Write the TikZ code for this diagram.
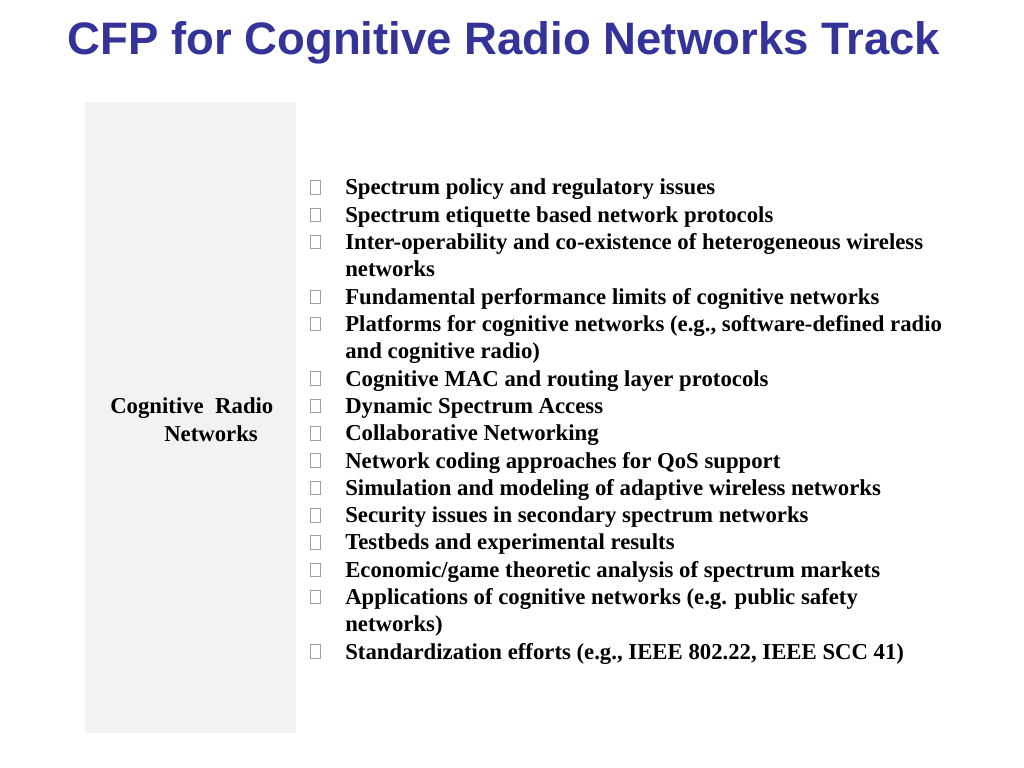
\documentclass[tikz,border=0pt]{standalone}
\usepackage{fontspec}
\setmainfont{Liberation Serif}
\newfontfamily\titlefont{Liberation Sans}
\definecolor{titleblue}{HTML}{333399}
\definecolor{panelgray}{HTML}{F2F2F2}
\definecolor{bulletgray}{HTML}{A0A0A0}
\begin{document}
\begin{tikzpicture}[x=0.703125pt,y=-0.703125pt,
  item/.style={anchor=base west,inner sep=0pt,font=\fontsize{16}{19}\selectfont\bfseries},
  bul/.style={draw=bulletgray,line width=0.5pt,minimum width=7pt,minimum height=9.5pt,inner sep=0pt},
  side/.style={anchor=base west,inner sep=0pt,font=\fontsize{16}{19}\selectfont\bfseries}]
\useasboundingbox (0,0) rectangle (1024,768);
\fill[white] (0,0) rectangle (1024,768);
\node[anchor=base,inner sep=0pt,text=titleblue,font=\titlefont\fontsize{32}{36}\selectfont\bfseries] (title) at (504,55) {CFP for Cognitive Radio Networks Track};
\node[fill=panelgray,inner sep=0pt,minimum width=148pt,minimum height=443.6pt,anchor=north west] (panel) at (85,102) {};
\node[side] (s1) at (110,413) {Cognitive\ \ Radio};
\node[side] (s2) at (164,441) {Networks};
% items
\node[item] (t1) at (345,195) {Spectrum policy and regulatory issues};
\node[item] (t2) at (345,222.3) {Spectrum etiquette based network protocols};
\node[item] (t3) at (345,249.6) {Inter-operability and co-existence of heterogeneous wireless};
\node[item] (t3b) at (345,276.9) {networks};
\node[item] (t4) at (345,304.2) {Fundamental performance limits of cognitive networks};
\node[item] (t5) at (345,331.5) {Platforms for cognitive networks (e.g., software-defined radio};
\node[item] (t5b) at (345,358.8) {and cognitive radio)};
\node[item] (t6) at (345,386.1) {Cognitive MAC and routing layer protocols};
\node[item] (t7) at (345,413.4) {Dynamic Spectrum Access};
\node[item] (t8) at (345,440.7) {Collaborative Networking};
\node[item] (t9) at (345,468) {Network coding approaches for QoS support};
\node[item] (t10) at (345,495.3) {Simulation and modeling of adaptive wireless networks};
\node[item] (t11) at (345,522.6) {Security issues in secondary spectrum networks};
\node[item] (t12) at (345,549.9) {Testbeds and experimental results};
\node[item] (t13) at (345,577.2) {Economic/game theoretic analysis of spectrum markets};
\node[item] (t14) at (345,604.5) {Applications of cognitive networks (e.g. public safety};
\node[item] (t14b) at (345,631.8) {networks)};
\node[item] (t15) at (345,659.1) {Standardization efforts (e.g., IEEE 802.22, IEEE SCC 41)};
% bullets
\foreach \n/\y in {b1/195,b2/222.3,b3/249.6,b4/304.2,b5/331.5,b6/386.1,b7/413.4,b8/440.7,b9/468,b10/495.3,b11/522.6,b12/549.9,b13/577.2,b14/604.5,b15/659.1}
  \node[bul] (\n) at (315.5,\y-7.5) {};
\end{tikzpicture}
\end{document}
